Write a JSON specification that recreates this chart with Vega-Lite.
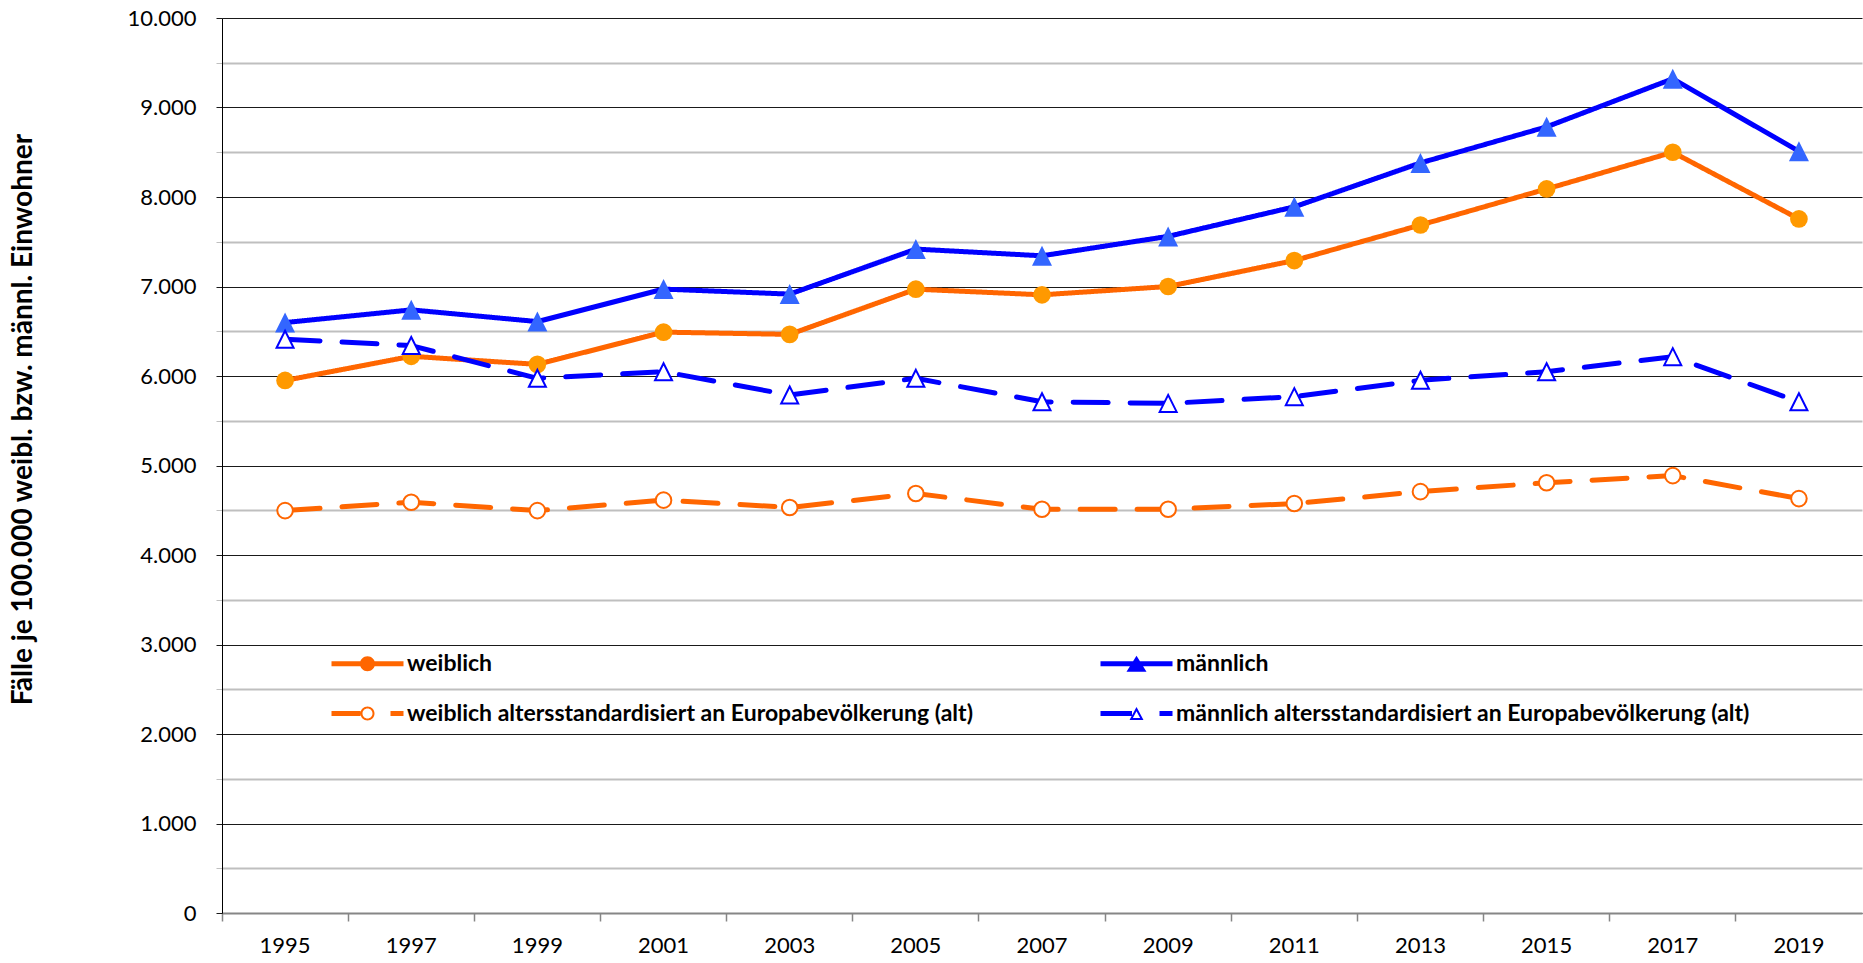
{
  "$schema": "https://vega.github.io/schema/vega-lite/v6.json",
  "width": 1640,
  "height": 895,
  "autosize": "none",
  "padding": {"left": 222, "top": 18, "right": 1, "bottom": 50},
  "background": "white",
  "config": {"view": {"stroke": null}, "font": "Lato"},
  "data": {
    "values": [
      {"Jahr": "1995", "Reihe": "weiblich", "Wert": 5950},
      {"Jahr": "1997", "Reihe": "weiblich", "Wert": 6220},
      {"Jahr": "1999", "Reihe": "weiblich", "Wert": 6130},
      {"Jahr": "2001", "Reihe": "weiblich", "Wert": 6490},
      {"Jahr": "2003", "Reihe": "weiblich", "Wert": 6465},
      {"Jahr": "2005", "Reihe": "weiblich", "Wert": 6970},
      {"Jahr": "2007", "Reihe": "weiblich", "Wert": 6907},
      {"Jahr": "2009", "Reihe": "weiblich", "Wert": 7000},
      {"Jahr": "2011", "Reihe": "weiblich", "Wert": 7290},
      {"Jahr": "2013", "Reihe": "weiblich", "Wert": 7687},
      {"Jahr": "2015", "Reihe": "weiblich", "Wert": 8090},
      {"Jahr": "2017", "Reihe": "weiblich", "Wert": 8500},
      {"Jahr": "2019", "Reihe": "weiblich", "Wert": 7755},
      {"Jahr": "1995", "Reihe": "männlich", "Wert": 6597},
      {"Jahr": "1997", "Reihe": "männlich", "Wert": 6739},
      {"Jahr": "1999", "Reihe": "männlich", "Wert": 6608},
      {"Jahr": "2001", "Reihe": "männlich", "Wert": 6971},
      {"Jahr": "2003", "Reihe": "männlich", "Wert": 6915},
      {"Jahr": "2005", "Reihe": "männlich", "Wert": 7418},
      {"Jahr": "2007", "Reihe": "männlich", "Wert": 7343},
      {"Jahr": "2009", "Reihe": "männlich", "Wert": 7560},
      {"Jahr": "2011", "Reihe": "männlich", "Wert": 7890},
      {"Jahr": "2013", "Reihe": "männlich", "Wert": 8381},
      {"Jahr": "2015", "Reihe": "männlich", "Wert": 8784},
      {"Jahr": "2017", "Reihe": "männlich", "Wert": 9321},
      {"Jahr": "2019", "Reihe": "männlich", "Wert": 8511},
      {"Jahr": "1995", "Reihe": "weiblich altersstandardisiert an Europabevölkerung (alt)", "Wert": 4496},
      {"Jahr": "1997", "Reihe": "weiblich altersstandardisiert an Europabevölkerung (alt)", "Wert": 4590},
      {"Jahr": "1999", "Reihe": "weiblich altersstandardisiert an Europabevölkerung (alt)", "Wert": 4496},
      {"Jahr": "2001", "Reihe": "weiblich altersstandardisiert an Europabevölkerung (alt)", "Wert": 4613},
      {"Jahr": "2003", "Reihe": "weiblich altersstandardisiert an Europabevölkerung (alt)", "Wert": 4531},
      {"Jahr": "2005", "Reihe": "weiblich altersstandardisiert an Europabevölkerung (alt)", "Wert": 4687},
      {"Jahr": "2007", "Reihe": "weiblich altersstandardisiert an Europabevölkerung (alt)", "Wert": 4511},
      {"Jahr": "2009", "Reihe": "weiblich altersstandardisiert an Europabevölkerung (alt)", "Wert": 4511},
      {"Jahr": "2011", "Reihe": "weiblich altersstandardisiert an Europabevölkerung (alt)", "Wert": 4575},
      {"Jahr": "2013", "Reihe": "weiblich altersstandardisiert an Europabevölkerung (alt)", "Wert": 4708},
      {"Jahr": "2015", "Reihe": "weiblich altersstandardisiert an Europabevölkerung (alt)", "Wert": 4807},
      {"Jahr": "2017", "Reihe": "weiblich altersstandardisiert an Europabevölkerung (alt)", "Wert": 4887},
      {"Jahr": "2019", "Reihe": "weiblich altersstandardisiert an Europabevölkerung (alt)", "Wert": 4630},
      {"Jahr": "1995", "Reihe": "männlich altersstandardisiert an Europabevölkerung (alt)", "Wert": 6411},
      {"Jahr": "1997", "Reihe": "männlich altersstandardisiert an Europabevölkerung (alt)", "Wert": 6340},
      {"Jahr": "1999", "Reihe": "männlich altersstandardisiert an Europabevölkerung (alt)", "Wert": 5974},
      {"Jahr": "2001", "Reihe": "männlich altersstandardisiert an Europabevölkerung (alt)", "Wert": 6048},
      {"Jahr": "2003", "Reihe": "männlich altersstandardisiert an Europabevölkerung (alt)", "Wert": 5787},
      {"Jahr": "2005", "Reihe": "männlich altersstandardisiert an Europabevölkerung (alt)", "Wert": 5974},
      {"Jahr": "2007", "Reihe": "männlich altersstandardisiert an Europabevölkerung (alt)", "Wert": 5712},
      {"Jahr": "2009", "Reihe": "männlich altersstandardisiert an Europabevölkerung (alt)", "Wert": 5694},
      {"Jahr": "2011", "Reihe": "männlich altersstandardisiert an Europabevölkerung (alt)", "Wert": 5769},
      {"Jahr": "2013", "Reihe": "männlich altersstandardisiert an Europabevölkerung (alt)", "Wert": 5952},
      {"Jahr": "2015", "Reihe": "männlich altersstandardisiert an Europabevölkerung (alt)", "Wert": 6048},
      {"Jahr": "2017", "Reihe": "männlich altersstandardisiert an Europabevölkerung (alt)", "Wert": 6216},
      {"Jahr": "2019", "Reihe": "männlich altersstandardisiert an Europabevölkerung (alt)", "Wert": 5712}
    ]
  },
  "encoding": {
    "x": {
      "field": "Jahr",
      "type": "ordinal",
      "bandPosition": 0.5,
      "scale": {"type": "band", "paddingInner": 0, "paddingOuter": 0},
      "axis": {
        "title": null,
        "bandPosition": 0,
        "labelAngle": 0,
        "labelOverlap": false,
        "tickSize": 8,
        "tickColor": "#868686",
        "tickWidth": 1.5,
        "domainColor": "#868686",
        "domainWidth": 2,
        "labelFontSize": 22,
        "labelColor": "#000000",
        "labelPadding": 14,
        "grid": false
      }
    },
    "y": {
      "field": "Wert",
      "type": "quantitative",
      "scale": {"domain": [0, 10000], "nice": false},
      "axis": {
        "title": "Fälle je 100.000 weibl. bzw. männl. Einwohner",
        "values": [0, 500, 1000, 1500, 2000, 2500, 3000, 3500, 4000, 4500, 5000, 5500, 6000, 6500, 7000, 7500, 8000, 8500, 9000, 9500, 10000],
        "labelExpr": "datum.value % 1000 === 0 ? replace(format(datum.value, ','), ',', '.') : ''",
        "grid": true,
        "gridColor": {"condition": {"test": "datum.value % 1000 === 0", "value": "#1a1a1a"}, "value": "#BFBFBF"},
        "gridWidth": {"condition": {"test": "datum.value % 1000 === 0", "value": 1}, "value": 2},
        "tickColor": {"condition": {"test": "datum.value % 1000 === 0", "value": "#1a1a1a"}, "value": "#BFBFBF"},
        "tickSize": 6,
        "domainColor": "#000000",
        "domainWidth": 1,
        "labelFontSize": 22,
        "labelColor": "#000000",
        "labelPadding": 20,
        "titleFontSize": 28,
        "titleFontWeight": "bold",
        "titleColor": "#000000",
        "titleX": -199,
        "titleY": 401,
        "titleAngle": -90,
        "titleAlign": "center",
        "titleBaseline": "middle"
      }
    }
  },
  "layer": [
    {
      "mark": {"type": "line", "strokeWidth": 5, "strokeCap": "round", "strokeJoin": "round"},
      "encoding": {
        "color": {
          "field": "Reihe",
          "type": "nominal",
          "scale": {
            "domain": ["weiblich", "weiblich altersstandardisiert an Europabevölkerung (alt)", "männlich", "männlich altersstandardisiert an Europabevölkerung (alt)"],
            "range": ["#FF6600", "#FF6600", "#0000FF", "#0000FF"]
          },
          "legend": {
            "title": null,
            "orient": "none",
            "legendX": 134,
            "legendY": 634,
            "columns": 2,
            "columnPadding": 127,
            "rowPadding": 26,
            "padding": 0,
            "symbolSize": 400,
            "symbolStrokeWidth": 0,
            "labelFontSize": 23,
            "labelFontWeight": "bold",
            "labelColor": "#000000",
            "labelOffset": 28,
            "labelLimit": 0,
            "encode": {
              "symbols": {
                "update": {
                  "shape": {"signal": "datum.value === 'weiblich' ? 'M-3.6,-0.25H3.6V0.25H-3.6Z M0.75,0A0.75,0.75 0 1,1 -0.75,0A0.75,0.75 0 1,1 0.75,0Z' : datum.value === 'männlich' ? 'M-3.6,-0.25H3.6V0.25H-3.6Z M0,-0.8L1,0.8L-1,0.8Z' : indexof(datum.value, 'weiblich') === 0 ? 'M-3.6,-0.25H-0.7V0.25H-3.6Z M0.7,0A0.7,0.7 0 1,1 -0.7,0A0.7,0.7 0 1,1 0.7,0Z M0.5,0A0.5,0.5 0 1,0 -0.5,0A0.5,0.5 0 1,0 0.5,0Z M2.3,-0.25H3.6V0.25H2.3Z' : 'M-3.6,-0.25H-0.45V0.25H-3.6Z M0,-0.65L0.7,0.65L-0.7,0.65Z M0,-0.227L-0.364,0.449L0.364,0.449Z M2.3,-0.25H3.6V0.25H2.3Z'"},
                  "fill": {"signal": "indexof(datum.value, 'weiblich') === 0 ? '#FF6600' : '#0000FF'"},
                  "stroke": {"value": "transparent"},
                  "strokeWidth": {"value": 0},
                  "opacity": {"value": 1}
                }
              }
            }
          }
        },
        "strokeDash": {
          "field": "Reihe",
          "type": "nominal",
          "scale": {
            "domain": ["weiblich", "weiblich altersstandardisiert an Europabevölkerung (alt)", "männlich", "männlich altersstandardisiert an Europabevölkerung (alt)"],
            "range": [[1, 0], [35, 22], [1, 0], [35, 22]]
          },
          "legend": null
        }
      }
    },
    {
      "transform": [{"filter": "datum.Reihe === 'weiblich'"}],
      "mark": {"type": "point", "shape": "circle", "size": 314, "filled": true, "fill": "#FF9900", "strokeWidth": 0, "opacity": 1},
      "encoding": {}
    },
    {
      "transform": [{"filter": "datum.Reihe === 'männlich'"}],
      "mark": {"type": "point", "shape": "M0,-1L1,1L-1,1Z", "size": 400, "filled": true, "fill": "#3366FF", "strokeWidth": 0, "opacity": 1},
      "encoding": {}
    },
    {
      "transform": [{"filter": "datum.Reihe === 'weiblich altersstandardisiert an Europabevölkerung (alt)'"}],
      "mark": {"type": "point", "shape": "circle", "size": 243, "filled": true, "fill": "#FFFFFF", "stroke": "#FF6600", "strokeWidth": 2, "opacity": 1},
      "encoding": {}
    },
    {
      "transform": [{"filter": "datum.Reihe === 'männlich altersstandardisiert an Europabevölkerung (alt)'"}],
      "mark": {"type": "point", "shape": "M0,-1L1,1L-1,1Z", "size": 289, "filled": true, "fill": "#FFFFFF", "stroke": "#0000FF", "strokeWidth": 2, "opacity": 1},
      "encoding": {}
    }
  ]
}
